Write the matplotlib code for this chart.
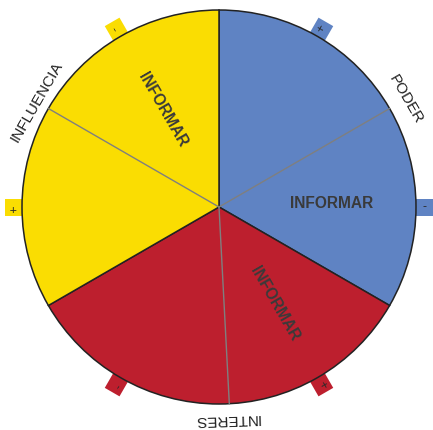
import numpy as np
import matplotlib
matplotlib.use("Agg")
import matplotlib.pyplot as plt
from matplotlib.patches import Polygon

# ---- data ----
sectors = ["Poder", "Interes", "Influencia"]
sector_values = [1, 1, 1]
sector_colors = ["#5F83C3", "#BD1F2E", "#FADD02"]

inner_labels = ["INFORMAR", "INFORMAR", "INFORMAR"]
inner_angles = [2, -60, 120]
inner_rotations = [0, -60, -60]

outer_labels = ["PODER", "INTERES", "INFLUENCIA"]
outer_angles = [30, -88, 150]
outer_radii = [1.095, 1.08, 1.068]

divider_angles = [30, -87, 150]

mark_signs = ["+", "-", "+", "-", "-", "+"]
mark_angles = [60, 0, -60, -120, 120, 180]
mark_colors = ["#5F83C3", "#5F83C3", "#BD1F2E", "#BD1F2E", "#FADD02", "#FADD02"]

# ---- figure ----
W, H, DPI = 433, 430, 100
fig = plt.figure(figsize=(W / DPI, H / DPI), dpi=DPI)
ax = fig.add_axes([0, 0, 1, 1])
R_px = 197.0
cx, cy = 219.0, 207.0

font = "Liberation Sans"

# marks (drawn behind pie)
hw = 8.5 / R_px
for s, a, c in zip(mark_signs, mark_angles, mark_colors):
    t = np.deg2rad(a)
    rv = np.array([np.cos(t), np.sin(t)])
    tv = np.array([-np.sin(t), np.cos(t)])
    r0, r1 = 0.95, 1.085
    pts = [rv * r0 - tv * hw, rv * r1 - tv * hw, rv * r1 + tv * hw, rv * r0 + tv * hw]
    ax.add_patch(Polygon(pts, closed=True, fc=c, ec="none", zorder=1))
    p = rv * 1.045
    ax.text(p[0], p[1], s, rotation=a, ha="center", va="center",
            fontsize=9, color="#2a2a2a", family=font, zorder=6,
            rotation_mode="anchor")

wedges, _ = ax.pie(sector_values, colors=sector_colors, startangle=90,
                   counterclock=False, radius=1.0, center=(0, 0), frame=True,
                   wedgeprops=dict(edgecolor="#222222", linewidth=1.1))
for w in wedges:
    w.set_zorder(3)
ax.set_xlim(-cx / R_px, (W - cx) / R_px)
ax.set_ylim(-(H - cy) / R_px, cy / R_px)
ax.set_aspect("equal")
ax.axis("off")

# gray divider lines
for a in divider_angles:
    t = np.deg2rad(a)
    ax.plot([0, np.cos(t)], [0, np.sin(t)], color="#7f7f7f", lw=1.0, zorder=4)

# inner labels
for lab, a, rot in zip(inner_labels, inner_angles, inner_rotations):
    t = np.deg2rad(a)
    r = 0.57
    ax.text(r * np.cos(t), r * np.sin(t), lab, rotation=rot, ha="center",
            va="center", fontsize=11.2, fontweight="bold", color="#3a3a3a",
            family=font, zorder=5, rotation_mode="anchor")

# outer labels
for lab, a, r in zip(outer_labels, outer_angles, outer_radii):
    t = np.deg2rad(a)
    ax.text(r * np.cos(t), r * np.sin(t), lab, rotation=a - 90, ha="center",
            va="center", fontsize=11, color="#222222", family=font,
            zorder=5, rotation_mode="anchor")

fig.savefig("out.png", dpi=DPI)
